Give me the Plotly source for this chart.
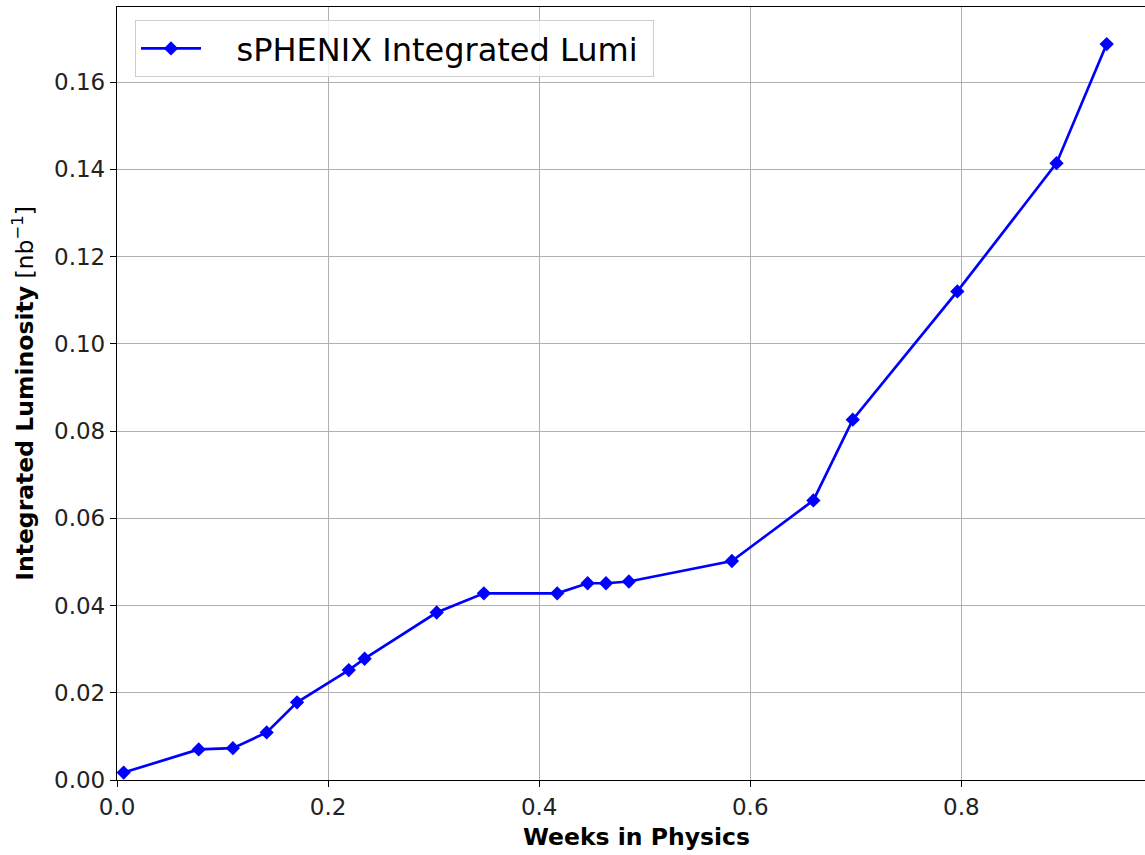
import plotly.graph_objects as go

weeks = [0.0063, 0.0774, 0.1098, 0.1418, 0.1706, 0.2196, 0.2346, 0.3029, 0.3476,
         0.4171, 0.4459, 0.4633, 0.4850, 0.5826, 0.6598, 0.6971, 0.7962, 0.8902, 0.9377]
lumi = [0.0017, 0.0070, 0.0073, 0.0109, 0.0178, 0.0252, 0.0278, 0.0384, 0.0428,
        0.0428, 0.0451, 0.0451, 0.0455, 0.0502, 0.0641, 0.0826, 0.1120, 0.1414, 0.1687]
series_name = "\u00a0\u00a0\u00a0sPHENIX Integrated Lumi\u00a0"
x_ticks = [0.0, 0.2, 0.4, 0.6, 0.8]
y_ticks = [0.00, 0.02, 0.04, 0.06, 0.08, 0.10, 0.12, 0.14, 0.16]

FONT = "DejaVu Sans"

fig = go.Figure()
fig.add_trace(go.Scatter(
    x=weeks, y=lumi, mode="lines+markers", name=series_name,
    line=dict(color="#0000ff", width=2.7),
    marker=dict(symbol="diamond", size=11, color="#0000ff"),
))

fig.update_layout(
    width=1145, height=855,
    margin=dict(l=117, r=0, t=7, b=75),
    paper_bgcolor="white", plot_bgcolor="white",
    font=dict(family=FONT, color="black", size=23),
    showlegend=True,
    legend=dict(
        x=0.0175, y=0.983, xanchor="left", yanchor="top",
        bgcolor="rgba(255,255,255,0.8)", bordercolor="#cccccc", borderwidth=1,
        font=dict(family=FONT, size=32, color="black"),
        itemwidth=60,
    ),
    xaxis=dict(
        range=[0, 0.974], tickvals=x_ticks, tickformat=".1f",
        showgrid=True, gridcolor="#b0b0b0", gridwidth=1.3,
        showline=True, linecolor="black", linewidth=1.3, mirror=True,
        ticks="outside", ticklen=6, tickwidth=1.3, tickcolor="black",
        zeroline=False, tickfont=dict(size=23, color="#222222"),
    ),
    yaxis=dict(
        range=[0, 0.1772], tickvals=y_ticks, tickformat=".2f",
        showgrid=True, gridcolor="#b0b0b0", gridwidth=1.3,
        showline=True, linecolor="black", linewidth=1.3, mirror=False,
        ticks="outside", ticklen=6, tickwidth=1.3, tickcolor="black",
        zeroline=False, tickfont=dict(size=23, color="#222222"),
        title=dict(text="<b>Integrated Luminosity</b> [nb<sup>−1</sup>]",
                   font=dict(size=23.5), standoff=13),
    ),
)

fig.add_annotation(
    text="<b>Weeks in Physics</b>", xref="paper", yref="paper",
    x=0.505, y=-0.0737, xanchor="center", yanchor="middle",
    showarrow=False, font=dict(family=FONT, size=23.5, color="black"),
)

fig.write_html("out.html", config={"displayModeBar": False},
               post_script="document.body.style.margin='0';document.body.style.overflow='hidden';")
